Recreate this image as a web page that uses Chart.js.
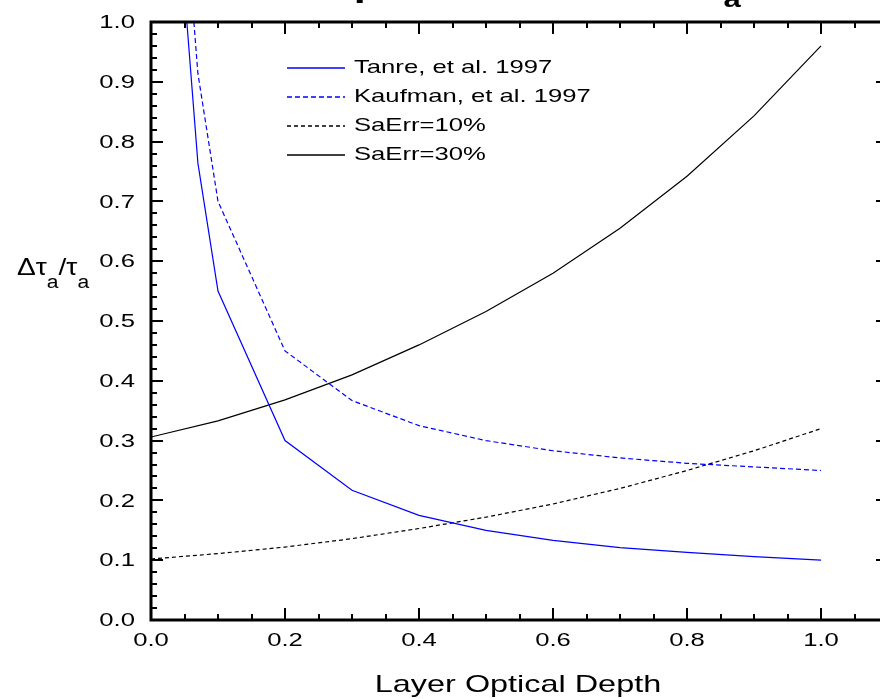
<!DOCTYPE html>
<html>
<head>
<meta charset="utf-8">
<script src="https://cdn.jsdelivr.net/npm/chart.js@4"></script>
<style>
  html, body { margin: 0; padding: 0; overflow: hidden; background: #fff; }
  canvas { display: block; }
</style>
</head>
<body>
<canvas id="errChart" width="900" height="699"></canvas>
<script>
// layer optical depth samples
const depthRetrieval = [0.05, 0.07, 0.1, 0.2, 0.3, 0.4, 0.5, 0.6, 0.7, 0.8, 0.9, 1.0];
const depthSaErr = [0.0, 0.1, 0.2, 0.3, 0.4, 0.5, 0.6, 0.7, 0.8, 0.9, 1.0];

// relative error dTau/Tau
const tanre97 = [1.05, 0.764, 0.55, 0.30, 0.217, 0.175, 0.15, 0.133, 0.121, 0.113, 0.106, 0.10];
const kaufman97 = [1.20, 0.914, 0.70, 0.45, 0.367, 0.325, 0.30, 0.283, 0.271, 0.262, 0.256, 0.25];
const saErr10 = [0.102, 0.111, 0.122, 0.136, 0.153, 0.172, 0.194, 0.22, 0.25, 0.283, 0.32];
const saErr30 = [0.306, 0.333, 0.368, 0.41, 0.46, 0.516, 0.58, 0.655, 0.742, 0.843, 0.96];

const seriesNames = ["Tanre, et al. 1997", "Kaufman, et al. 1997", "SaErr=10%", "SaErr=30%"];

// tick values and labels
const xMajorTicks = [0.0, 0.2, 0.4, 0.6, 0.8, 1.0];
const xTickLabels = ["0.0", "0.2", "0.4", "0.6", "0.8", "1.0"];
const yMajorTicks = [0.0, 0.1, 0.2, 0.3, 0.4, 0.5, 0.6, 0.7, 0.8, 0.9, 1.0];
const yTickLabels = ["0.0", "0.1", "0.2", "0.3", "0.4", "0.5", "0.6", "0.7", "0.8", "0.9", "1.0"];

const FONT = "'Liberation Sans', Arial, sans-serif";
const SX = 1.35; // horizontal text stretch

function pts(xs, ys) {
    return xs.map((x, i) => ({ x: x, y: ys[i] }));
}

function wideText(ctx, text, x, y, align, sx) {
    const k = sx || SX;
    const w = ctx.measureText(text).width * k;
    let x0 = x;
    if (align === "center") x0 = x - w / 2;
    if (align === "right") x0 = x - w;
    ctx.save();
    ctx.translate(x0, y);
    ctx.scale(k, 1);
    ctx.textAlign = "left";
    ctx.fillText(text, 0, 0);
    ctx.restore();
    return w;
}

const framePlugin = {
    id: "frame",
    afterDraw(chart) {
        const ctx = chart.ctx;
        const a = chart.chartArea;
        const xs = chart.scales.x, ys = chart.scales.y;
        ctx.save();
        ctx.strokeStyle = "#000";
        ctx.fillStyle = "#000";

        // inward ticks on all four sides
        ctx.lineWidth = 2;
        ctx.beginPath();
        for (let i = 0; i <= 22; i++) {
            const v = i * 0.05;
            const px = Math.round(xs.getPixelForValue(v));
            const len = (i % 4 === 0) ? 12 : 6;
            ctx.moveTo(px, a.bottom); ctx.lineTo(px, a.bottom - len);
            ctx.moveTo(px, a.top); ctx.lineTo(px, a.top + len);
        }
        for (let i = 0; i <= 50; i++) {
            const v = i * 0.02;
            const py = Math.round(ys.getPixelForValue(v));
            const len = (i % 5 === 0) ? 12 : 6;
            ctx.moveTo(a.left, py); ctx.lineTo(a.left + len, py);
            ctx.moveTo(a.right, py); ctx.lineTo(a.right - len, py);
        }
        ctx.stroke();

        ctx.lineWidth = 3;
        ctx.strokeRect(a.left, a.top, a.right - a.left, a.bottom - a.top);

        // tick labels
        ctx.font = "19px " + FONT;
        ctx.textBaseline = "middle";
        xMajorTicks.forEach((v, i) => {
            wideText(ctx, xTickLabels[i], xs.getPixelForValue(v), a.bottom + 21, "center");
        });
        yMajorTicks.forEach((v, i) => {
            wideText(ctx, yTickLabels[i], a.left - 16, ys.getPixelForValue(v) + 1, "right");
        });

        // axis titles
        ctx.textBaseline = "alphabetic";
        ctx.font = "24px " + FONT;
        wideText(ctx, "Layer Optical Depth", 518, 692, "center");

        let tx = 17;
        const parts = [["\u0394\u03c4", 0], ["a", 1], ["/\u03c4", 0], ["a", 1]];
        parts.forEach(p => {
            ctx.font = (p[1] ? "18px " : "24px ") + FONT;
            tx += wideText(ctx, p[0], tx, p[1] ? 288 : 275, "left", 1.17);
        });

        // title, mostly above the top edge
        ctx.font = "bold 32px " + FONT;
        let ttx = 301;
        ttx += wideText(ctx, "Expected Error in \u0394\u03c4", ttx, -4, "left");
        ctx.font = "bold 23px " + FONT;
        wideText(ctx, "a", ttx, 7, "left");

        // legend
        ctx.font = "19px " + FONT;
        ctx.textBaseline = "middle";
        chart.data.datasets.forEach((ds, i) => {
            const y = 68 + i * 29;
            ctx.beginPath();
            ctx.lineWidth = 1.3;
            ctx.strokeStyle = ds.borderColor;
            ctx.setLineDash(ds.borderDash || []);
            ctx.moveTo(287, y);
            ctx.lineTo(345, y);
            ctx.stroke();
            ctx.setLineDash([]);
            ctx.fillStyle = "#000";
            wideText(ctx, ds.label, 354, y, "left");
        });
        ctx.restore();
    }
};

const ctx = document.getElementById("errChart").getContext("2d");

new Chart(ctx, {
    type: "line",
    data: {
        datasets: [
            { label: seriesNames[0], data: pts(depthRetrieval, tanre97), borderColor: "#0000ff" },
            { label: seriesNames[1], data: pts(depthRetrieval, kaufman97), borderColor: "#0000ff", borderDash: [5, 3] },
            { label: seriesNames[2], data: pts(depthSaErr, saErr10), borderColor: "#000000", borderDash: [4, 3] },
            { label: seriesNames[3], data: pts(depthSaErr, saErr30), borderColor: "#000000" }
        ]
    },
    options: {
        responsive: false,
        animation: false,
        layout: { padding: { left: 151, top: 22, right: 12, bottom: 79 } },
        elements: {
            line: { borderWidth: 1.2, tension: 0, fill: false },
            point: { radius: 0 }
        },
        datasets: { line: { clip: 0 } },
        scales: {
            x: { type: "linear", min: 0, max: 1.1, display: false },
            y: { type: "linear", min: 0, max: 1.0, display: false }
        },
        plugins: {
            legend: { display: false },
            tooltip: { enabled: false }
        }
    },
    plugins: [framePlugin]
});
</script>
</body>
</html>
